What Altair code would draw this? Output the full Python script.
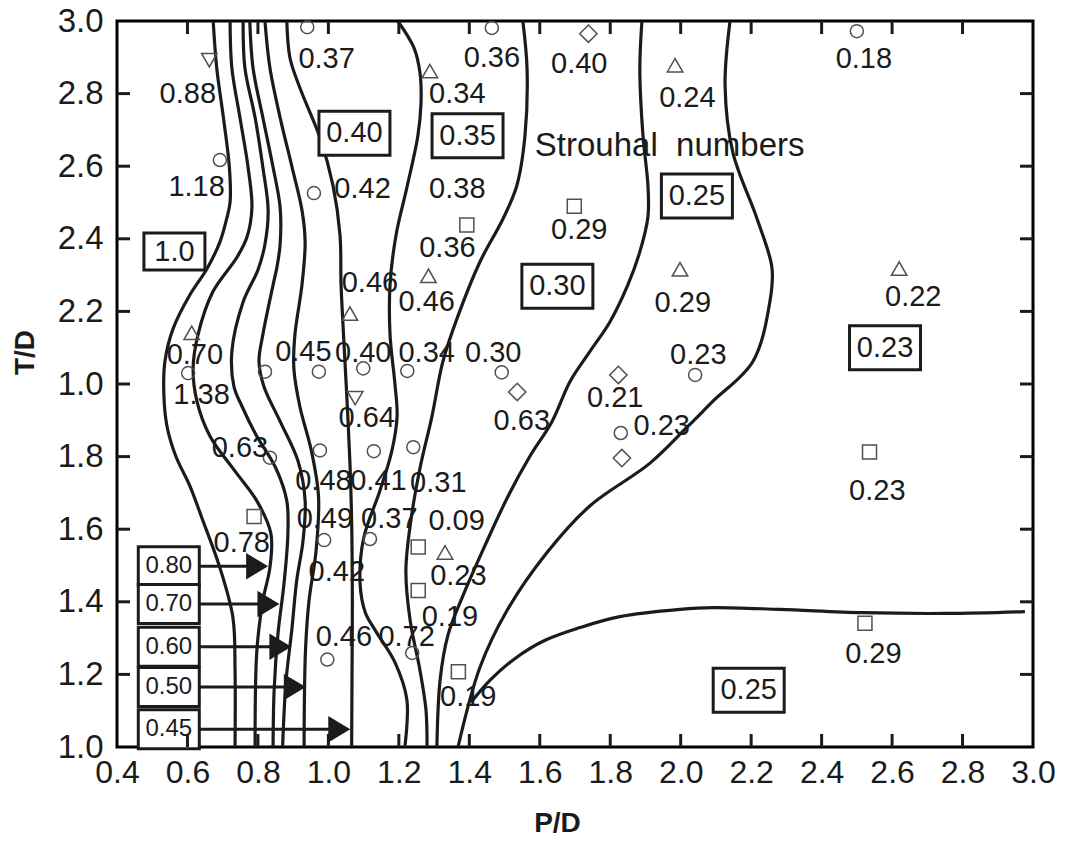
import altair as alt
import pandas as pd

# ---------------------------------------------------------------------------
# Strouhal-number contours, each traced from top (T/D = 3) to bottom (T/D = 1)
# as (P/D, T/D) pairs
# ---------------------------------------------------------------------------
st_100 = [(0.673, 3.0), (0.683, 2.871), (0.702, 2.734), (0.719, 2.597), (0.721, 2.501),
          (0.711, 2.454), (0.692, 2.391), (0.655, 2.317), (0.607, 2.246), (0.559, 2.152),
          (0.536, 2.062), (0.533, 1.971), (0.542, 1.883), (0.567, 1.801), (0.607, 1.719),
          (0.641, 1.631), (0.692, 1.494), (0.729, 1.357), (0.735, 1.219), (0.735, 1.0)]
st_080 = [(0.721, 3.0), (0.726, 2.871), (0.749, 2.734), (0.772, 2.597), (0.783, 2.487),
          (0.769, 2.405), (0.741, 2.350), (0.672, 2.254), (0.630, 2.136), (0.616, 2.043),
          (0.627, 1.952), (0.664, 1.856), (0.735, 1.760), (0.797, 1.678), (0.837, 1.587),
          (0.834, 1.494), (0.814, 1.403), (0.797, 1.266), (0.792, 1.0)]
st_070 = [(0.758, 3.0), (0.763, 2.871), (0.792, 2.734), (0.814, 2.597), (0.829, 2.479),
          (0.820, 2.385), (0.800, 2.314), (0.758, 2.226), (0.726, 2.089), (0.732, 1.993),
          (0.755, 1.938), (0.794, 1.861), (0.851, 1.768), (0.882, 1.678), (0.885, 1.587),
          (0.874, 1.450), (0.857, 1.313), (0.846, 1.156), (0.843, 1.0)]
st_060 = [(0.777, 3.0), (0.786, 2.871), (0.814, 2.734), (0.843, 2.597), (0.863, 2.487),
          (0.863, 2.385), (0.854, 2.322), (0.843, 2.273), (0.814, 2.136), (0.803, 2.062),
          (0.817, 1.993), (0.863, 1.897), (0.914, 1.787), (0.934, 1.678), (0.928, 1.568),
          (0.910, 1.458), (0.896, 1.321), (0.880, 1.184), (0.870, 1.0)]
st_050 = [(0.820, 3.0), (0.834, 2.871), (0.863, 2.734), (0.897, 2.597), (0.925, 2.479),
          (0.934, 2.391), (0.925, 2.273), (0.905, 2.136), (0.902, 2.043), (0.919, 1.938),
          (0.952, 1.815), (0.972, 1.691), (0.965, 1.540), (0.945, 1.403), (0.935, 1.266),
          (0.931, 1.0)]
st_045 = [(0.882, 3.0), (0.891, 2.898), (0.919, 2.816), (0.976, 2.679), (1.013, 2.547),
          (1.033, 2.410), (1.036, 2.273), (1.044, 2.117), (1.053, 1.952), (1.061, 1.787),
          (1.066, 1.623), (1.068, 1.403), (1.067, 1.184), (1.066, 1.0)]
st_040 = [(1.197, 3.0), (1.243, 2.926), (1.260, 2.857), (1.263, 2.775), (1.254, 2.684),
          (1.223, 2.542), (1.192, 2.410), (1.175, 2.273), (1.175, 2.136), (1.189, 1.999),
          (1.195, 1.911), (1.180, 1.815), (1.146, 1.705), (1.100, 1.575), (1.090, 1.450),
          (1.105, 1.370), (1.134, 1.320), (1.189, 1.233), (1.223, 1.129), (1.217, 1.0)]
st_035 = [(1.552, 3.0), (1.564, 2.866), (1.558, 2.684), (1.535, 2.547), (1.495, 2.454),
          (1.430, 2.336), (1.365, 2.180), (1.325, 2.062), (1.294, 1.911), (1.260, 1.768),
          (1.234, 1.623), (1.220, 1.486), (1.232, 1.349), (1.260, 1.211), (1.277, 1.102),
          (1.280, 1.0)]
st_030 = [(1.890, 3.0), (1.884, 2.866), (1.893, 2.684), (1.907, 2.547), (1.907, 2.460),
          (1.884, 2.364), (1.850, 2.273), (1.799, 2.171), (1.742, 2.089), (1.686, 2.007),
          (1.635, 1.897), (1.572, 1.801), (1.510, 1.691), (1.444, 1.554), (1.382, 1.417),
          (1.339, 1.307), (1.317, 1.184), (1.308, 1.0)]
st_025_upper = [(2.140, 3.0), (2.126, 2.822), (2.148, 2.638), (2.216, 2.457), (2.259, 2.320),
                (2.253, 2.226), (2.205, 2.062), (2.091, 1.952), (2.020, 1.883), (1.913, 1.782),
                (1.742, 1.664), (1.620, 1.535), (1.507, 1.376), (1.430, 1.219), (1.368, 1.0)]
st_025_lower = [(1.405, 1.123), (1.459, 1.184), (1.530, 1.244), (1.615, 1.294), (1.714, 1.329),
                (1.827, 1.359), (1.998, 1.379), (2.091, 1.384), (2.282, 1.379), (2.517, 1.370),
                (2.756, 1.368), (2.977, 1.373)]

contours = [("1.0", st_100), ("0.80", st_080), ("0.70", st_070), ("0.60", st_060),
            ("0.50", st_050), ("0.45", st_045), ("0.40", st_040), ("0.35", st_035),
            ("0.30", st_030), ("0.25a", st_025_upper), ("0.25b", st_025_lower)]

# measured points: (P/D, T/D, symbol)
points = [
    (0.662, 2.892, "triangle-down"), (0.692, 2.617, "circle"), (0.940, 2.983, "circle"),
    (0.959, 2.526, "circle"), (1.464, 2.981, "circle"), (1.288, 2.862, "triangle-up"),
    (1.738, 2.965, "diamond"), (1.984, 2.878, "triangle-up"), (2.500, 2.972, "circle"),
    (1.393, 2.438, "square"), (1.698, 2.490, "square"), (1.998, 2.316, "triangle-up"),
    (2.620, 2.318, "triangle-up"), (2.041, 2.025, "circle"), (1.823, 2.025, "diamond"),
    (1.830, 1.865, "circle"), (1.833, 1.796, "diamond"), (2.536, 1.813, "square"),
    (2.523, 1.341, "square"), (1.492, 2.032, "circle"), (1.536, 1.978, "diamond"),
    (1.224, 2.036, "circle"), (1.241, 1.826, "circle"), (1.255, 1.551, "square"),
    (1.331, 1.536, "triangle-up"), (1.255, 1.431, "square"), (1.369, 1.207, "square"),
    (1.238, 1.259, "circle"), (0.997, 1.241, "circle"), (1.118, 1.573, "circle"),
    (0.988, 1.570, "circle"), (0.789, 1.635, "square"), (0.834, 1.797, "circle"),
    (0.976, 1.817, "circle"), (1.129, 1.815, "circle"), (1.076, 1.961, "triangle-down"),
    (1.099, 2.043, "circle"), (0.973, 2.034, "circle"), (0.820, 2.034, "circle"),
    (0.602, 2.030, "circle"), (0.612, 2.141, "triangle-up"), (1.061, 2.194, "triangle-up"),
    (1.284, 2.298, "triangle-up"),
]

# Strouhal number written next to each measured point: (P/D, T/D, text)
point_values = [
    (0.601, 2.800, "0.88"), (0.626, 2.544, "1.18"), (0.995, 2.894, "0.37"),
    (1.097, 2.536, "0.42"), (1.464, 2.898, "0.36"), (1.366, 2.798, "0.34"),
    (1.712, 2.882, "0.40"), (2.019, 2.789, "0.24"), (2.520, 2.896, "0.18"),
    (1.366, 2.537, "0.38"), (1.338, 2.374, "0.36"), (1.712, 2.423, "0.29"),
    (2.006, 2.224, "0.29"), (2.660, 2.240, "0.22"), (2.050, 2.080, "0.23"),
    (1.814, 1.961, "0.21"), (1.946, 1.883, "0.23"), (2.558, 1.705, "0.23"),
    (2.547, 1.257, "0.29"), (1.468, 2.085, "0.30"), (1.549, 1.897, "0.63"),
    (1.279, 2.085, "0.34"), (1.312, 1.728, "0.31"), (1.364, 1.623, "0.09"),
    (1.369, 1.472, "0.23"), (1.345, 1.358, "0.19"), (1.397, 1.138, "0.19"),
    (1.222, 1.303, "0.72"), (1.044, 1.303, "0.46"), (1.173, 1.627, "0.37"),
    (0.990, 1.627, "0.49"), (1.024, 1.483, "0.42"), (0.754, 1.561, "0.78"),
    (0.749, 1.824, "0.63"), (0.986, 1.734, "0.48"), (1.142, 1.734, "0.41"),
    (1.109, 1.906, "0.64"), (1.099, 2.085, "0.40"), (0.929, 2.089, "0.45"),
    (0.640, 1.970, "1.38"), (0.621, 2.080, "0.70"), (1.118, 2.277, "0.46"),
    (1.279, 2.226, "0.46"),
]

# contour level labels placed inside the regions: (P/D, T/D, text)
region_labels = [
    (0.563, 2.365, "1.0"), (1.074, 2.691, "0.40"), (1.395, 2.684, "0.35"),
    (1.650, 2.269, "0.30"), (2.046, 2.518, "0.25"), (2.580, 2.100, "0.23"),
    (2.193, 1.156, "0.25"),
]

# key for the closely packed contours near the lower left corner
key_levels = ["0.80", "0.70", "0.60", "0.50", "0.45"]
key_td = [1.498, 1.394, 1.276, 1.165, 1.049]
key_arrow_tip = [0.829, 0.861, 0.895, 0.936, 1.062]
key_center_pd = 0.547

x_tick_values = [0.4, 0.6, 0.8, 1.0, 1.2, 1.4, 1.6, 1.8, 2.0, 2.2, 2.4, 2.6, 2.8, 3.0]
y_tick_values = [1.0, 1.2, 1.4, 1.6, 1.8, 2.0, 2.2, 2.4, 2.6, 2.8, 3.0]

# ---------------------------------------------------------------------------
W, H = 916, 726
X_DOMAIN = [0.4, 3.0]
Y_DOMAIN = [1.0, 3.0]
KX = W / (X_DOMAIN[1] - X_DOMAIN[0])   # pixels per unit P/D
KY = H / (Y_DOMAIN[1] - Y_DOMAIN[0])   # pixels per unit T/D
FONT = "Liberation Sans"
INK = "#1b1b1b"
TICK_LEN = 13
LINE_W = 3.2

xs = alt.Scale(domain=X_DOMAIN, nice=False, zero=False)
ys = alt.Scale(domain=Y_DOMAIN, nice=False, zero=False)

x_axis = alt.Axis(values=x_tick_values, format=".1f", title="P/D", ticks=False, tickSize=0,
                  domain=False, grid=False, labelFlush=False, labelOverlap=False,
                  labelFont=FONT, labelFontSize=32, labelColor=INK, labelPadding=10,
                  titleFont=FONT, titleFontSize=28, titleFontWeight="bold", titleColor=INK,
                  titleX=440, titleY=76, titleBaseline="middle", titleAlign="center")
y_axis = alt.Axis(values=y_tick_values,
                  labelExpr="abs(datum.value - 2) < 0.001 ? '1.0' : format(datum.value, '.1f')",
                  title="T/D", ticks=False, tickSize=0, domain=False, grid=False,
                  labelFlush=False, labelOverlap=False,
                  labelFont=FONT, labelFontSize=33, labelColor=INK, labelPadding=14,
                  titleFont=FONT, titleFontSize=28, titleFontWeight="bold", titleColor=INK,
                  titleAngle=270, titleX=-92, titleY=331, titleAlign="center",
                  titleBaseline="middle")

# the axes are declared once, on the contour layer; the other layers share its scales
X = lambda f: alt.X(f, type="quantitative", scale=xs)
Y = lambda f: alt.Y(f, type="quantitative", scale=ys)

# contour lines
line_rows = []
for name, pts in contours:
    for i, (p, t) in enumerate(pts):
        line_rows.append({"level": name, "i": i, "p": p, "t": t})
lines = alt.Chart(pd.DataFrame(line_rows)).mark_line(
    color=INK, strokeWidth=LINE_W, interpolate="catmull-rom", clip=True
).encode(
    x=alt.X("p:Q", scale=xs, axis=x_axis),
    y=alt.Y("t:Q", scale=ys, axis=y_axis),
    detail="level:N",
    order="i:Q",
)

# boxed level labels
box_rows = []
for p, t, txt in region_labels:
    wpx, hpx = (61, 37) if len(txt) == 3 else (71, 44)
    box_rows.append({"txt": txt, "p": p, "t": t,
                     "x0": p - wpx / 2 / KX, "x1": p + wpx / 2 / KX,
                     "y0": t - hpx / 2 / KY, "y1": t + hpx / 2 / KY})
boxes_df = pd.DataFrame(box_rows)
boxes = alt.Chart(boxes_df).mark_rect(fill="white", stroke=INK, strokeWidth=3).encode(
    x=X("x0"), x2="x1", y=Y("y0"), y2="y1")
box_text = alt.Chart(boxes_df).mark_text(
    font=FONT, fontSize=29, color=INK, align="center", baseline="middle"
).encode(x=X("p"), y=Y("t"), text="txt:N")

# key boxes with arrows
key_rows = []
for lvl, t, tip in zip(key_levels, key_td, key_arrow_tip):
    key_rows.append({"txt": lvl, "p": key_center_pd, "t": t,
                     "x0": key_center_pd - 30.5 / KX, "x1": key_center_pd + 30.5 / KX,
                     "y0": t - 19.5 / KY, "y1": t + 19.5 / KY,
                     "tip": tip, "shaft_end": tip - 12 / KX})
key_df = pd.DataFrame(key_rows)
key_boxes = alt.Chart(key_df).mark_rect(fill="white", stroke=INK, strokeWidth=3).encode(
    x=X("x0"), x2="x1", y=Y("y0"), y2="y1")
key_text = alt.Chart(key_df).mark_text(
    font=FONT, fontSize=24, color=INK, align="center", baseline="middle"
).encode(x=X("p"), y=Y("t"), text="txt:N")
key_shafts = alt.Chart(key_df).mark_rule(color=INK, strokeWidth=3).encode(
    x=X("x1"), x2="shaft_end", y=Y("t"))
key_heads = alt.Chart(key_df).mark_point(
    shape="M-2,-1.2L0,0L-2,1.2Z", size=484, filled=True, color=INK, opacity=1
).encode(x=X("tip"), y=Y("t"))

# measured points
sym_size = {"circle": 170, "square": 196, "triangle-up": 240, "triangle-down": 240,
            "diamond": 300}
pts_df = pd.DataFrame(points, columns=["p", "t", "kind"])
pts_df["sz"] = pts_df["kind"].map(sym_size)
markers = alt.Chart(pts_df).mark_point(
    filled=False, color="#505050", strokeWidth=1.5, opacity=1
).encode(x=X("p"), y=Y("t"),
         shape=alt.Shape("kind:N", scale=None),
         size=alt.Size("sz:Q", scale=None))

values_df = pd.DataFrame(point_values, columns=["p", "t", "txt"])
value_text = alt.Chart(values_df).mark_text(
    font=FONT, fontSize=29, color=INK, align="center", baseline="middle"
).encode(x=X("p"), y=Y("t"), text="txt:N")

caption = alt.Chart(pd.DataFrame([{"p": 1.586, "t": 2.657,
                                   "txt": "Strouhal\u00a0 numbers"}])).mark_text(
    font=FONT, fontSize=33, color=INK, align="left", baseline="middle"
).encode(x=X("p"), y=Y("t"), text="txt:N")

# inward tick marks on all four sides
inner_x = pd.DataFrame({"v": x_tick_values[1:-1]})
inner_y = pd.DataFrame({"v": y_tick_values[1:-1]})
tick_style = dict(color=INK, strokeWidth=3)
ticks_bottom = alt.Chart(inner_x).mark_rule(**tick_style).encode(
    x=X("v"), y=alt.value(H), y2=alt.value(H - TICK_LEN))
ticks_top = alt.Chart(inner_x).mark_rule(**tick_style).encode(
    x=X("v"), y=alt.value(0), y2=alt.value(TICK_LEN))
ticks_left = alt.Chart(inner_y).mark_rule(**tick_style).encode(
    y=Y("v"), x=alt.value(0), x2=alt.value(TICK_LEN))
ticks_right = alt.Chart(inner_y).mark_rule(**tick_style).encode(
    y=Y("v"), x=alt.value(W), x2=alt.value(W - TICK_LEN))

chart = alt.layer(
    lines, boxes, box_text, key_boxes, key_text, key_shafts, key_heads,
    markers, value_text, caption,
    ticks_bottom, ticks_top, ticks_left, ticks_right,
).properties(
    width=W, height=H,
    padding={"left": 117, "top": 21, "right": 33, "bottom": 94},
    autosize=alt.AutoSizeParams(type="none"),
    background="white",
).configure_view(stroke="black", strokeWidth=3)

chart.save("out.html", embed_options={"renderer": "svg", "actions": False})
